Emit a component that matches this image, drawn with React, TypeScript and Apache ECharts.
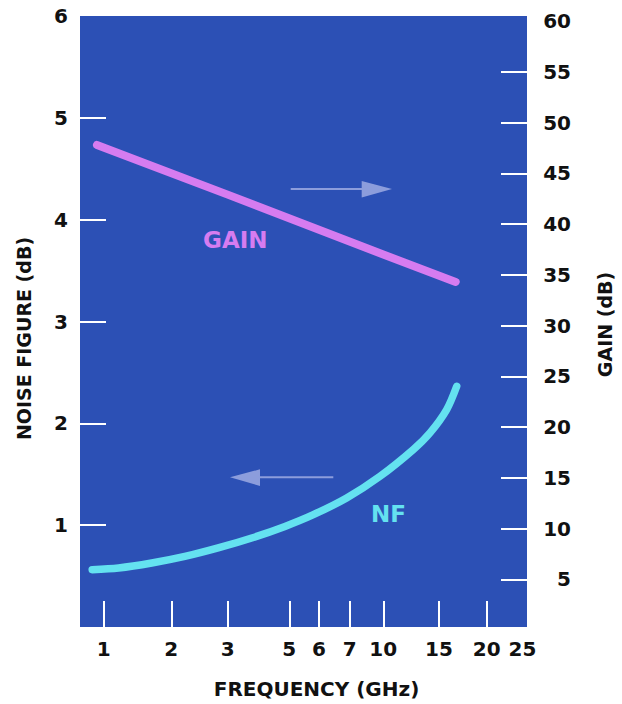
import React, { useEffect, useRef } from "react";
import * as echarts from "echarts";

// ---- Data ----
// Frequency axis tick labels (GHz)
const FREQ_TICKS = [1, 2, 3, 5, 6, 7, 10, 15, 20, 25];
// Non-uniform frequency scale of the original plot: where each tick sits along the axis (0..1)
const FREQ_SCALE_STOPS = [0.053, 0.2043, 0.3304, 0.4682, 0.5347, 0.6034, 0.6785, 0.8031, 0.9098, 0.99];

// Noise figure curve (left axis, dB)
const nfFreq = [0.83, 1.22, 1.71, 2.24, 2.83, 3.78, 4.86, 5.81, 6.9, 9.71, 12.69, 14.19, 15.81, 16.86];
const nfValues = [0.563, 0.579, 0.628, 0.693, 0.776, 0.874, 0.988, 1.103, 1.267, 1.48, 1.742, 1.906, 2.135, 2.364];

// Gain line (right axis, dB)
const gainFreq = [0.9, 3, 10, 16.75];
const gainValues = [47.8, 42.9, 37.0, 34.3];

// Y tick labels
const NF_TICKS = [1, 2, 3, 4, 5, 6];
const GAIN_TICKS = [5, 10, 15, 20, 25, 30, 35, 40, 45, 50, 55, 60];

// ---- Scale helper: frequency -> position on the non-uniform axis ----
function freqToPos(f: number): number {
  const t = FREQ_TICKS;
  const p = FREQ_SCALE_STOPS;
  let i = 0;
  if (f <= t[0]) i = 0;
  else if (f >= t[t.length - 1]) i = t.length - 2;
  else {
    while (i < t.length - 2 && f > t[i + 1]) i++;
  }
  const r = (f - t[i]) / (t[i + 1] - t[i]);
  return p[i] + r * (p[i + 1] - p[i]);
}

function posToLabel(v: number): string {
  let best = 0;
  let d = Infinity;
  FREQ_SCALE_STOPS.forEach((p, i) => {
    const dd = Math.abs(p - v);
    if (dd < d) {
      d = dd;
      best = i;
    }
  });
  return String(FREQ_TICKS[best]);
}

const BG = "#2c50b5";
const GAIN_COLOR = "#d67cf0";
const NF_COLOR = "#64e2f0";
const ARROW_COLOR = "#8c9ddc";
const FONT = "DejaVu Sans";
const TEXT_COLOR = "#111111";

export default function App() {
  const ref = useRef<HTMLDivElement>(null);

  useEffect(() => {
    if (!ref.current) return;
    const chart = echarts.init(ref.current, undefined, { renderer: "svg" });

    const labelStyle = {
      fontFamily: FONT,
      fontWeight: "bold" as const,
      fontSize: 20,
      color: TEXT_COLOR,
    };
    const tickStyle = {
      show: true,
      inside: true,
      length: 26,
      lineStyle: { color: "#ffffff", width: 2 },
    };

    chart.setOption({
      animation: false,
      backgroundColor: "#ffffff",
      grid: {
        left: 80,
        top: 16,
        right: 95,
        bottom: 76,
        show: true,
        backgroundColor: BG,
        borderWidth: 0,
      },
      xAxis: {
        type: "value",
        min: 0,
        max: 1,
        axisLine: { show: false },
        splitLine: { show: false },
        axisTick: { ...tickStyle, customValues: FREQ_SCALE_STOPS.slice(0, -1) },
        axisLabel: {
          ...labelStyle,
          margin: 12,
          customValues: FREQ_SCALE_STOPS,
          formatter: (v: number) => posToLabel(v),
        },
        name: "FREQUENCY (GHz)",
        nameLocation: "middle",
        nameGap: 52,
        nameTextStyle: {
          fontFamily: FONT,
          fontWeight: "bold",
          fontSize: 20,
          color: TEXT_COLOR,
          padding: [0, 0, 0, 26],
        },
      },
      yAxis: [
        {
          type: "value",
          min: 0,
          max: 6,
          position: "left",
          axisLine: { show: false },
          splitLine: { show: false },
          axisTick: { ...tickStyle, customValues: [1, 2, 3, 4, 5] },
          axisLabel: { ...labelStyle, margin: 12, customValues: NF_TICKS },
          name: "NOISE FIGURE (dB)",
          nameLocation: "middle",
          nameRotate: 90,
          nameGap: 47,
          nameTextStyle: {
            fontFamily: FONT,
            fontWeight: "bold",
            fontSize: 19,
            color: TEXT_COLOR,
            padding: [0, 34, 0, 0],
          },
        },
        {
          type: "value",
          min: 0.3,
          max: 60.5,
          position: "right",
          axisLine: { show: false },
          splitLine: { show: false },
          axisTick: { ...tickStyle, customValues: GAIN_TICKS.slice(0, -1) },
          axisLabel: { ...labelStyle, margin: 44, align: "right", customValues: GAIN_TICKS },
          name: "GAIN (dB)",
          nameLocation: "middle",
          nameRotate: 90,
          nameGap: 68,
          nameTextStyle: {
            fontFamily: FONT,
            fontWeight: "bold",
            fontSize: 19,
            color: TEXT_COLOR,
            padding: [0, 6, 0, 0],
          },
        },
      ],
      series: [
        {
          name: "GAIN",
          type: "line",
          yAxisIndex: 1,
          symbol: "none",
          data: gainFreq.map((f, i) => [freqToPos(f), gainValues[i]]),
          lineStyle: { color: GAIN_COLOR, width: 8, cap: "round", join: "round" },
          z: 3,
        },
        {
          name: "NF",
          type: "line",
          yAxisIndex: 0,
          symbol: "none",
          smooth: 0.3,
          data: nfFreq.map((f, i) => [freqToPos(f), nfValues[i]]),
          lineStyle: { color: NF_COLOR, width: 7.5, cap: "round", join: "round" },
          z: 3,
        },
      ],
      graphic: [
        {
          type: "text",
          left: 203,
          top: 228,
          z: 10,
          style: {
            text: "GAIN",
            fill: GAIN_COLOR,
            font: `bold 23px "${FONT}"`,
          },
        },
        {
          type: "text",
          left: 371,
          top: 502,
          z: 10,
          style: {
            text: "NF",
            fill: NF_COLOR,
            font: `bold 23px "${FONT}"`,
          },
        },
        {
          type: "line",
          z: 10,
          shape: { x1: 290.7, y1: 189, x2: 364, y2: 189 },
          style: { stroke: ARROW_COLOR, lineWidth: 2 },
        },
        {
          type: "polygon",
          z: 10,
          shape: { points: [[392, 189], [361.7, 181], [361.7, 197.5]] },
          style: { fill: ARROW_COLOR },
        },
        {
          type: "line",
          z: 10,
          shape: { x1: 333.3, y1: 477.3, x2: 258, y2: 477.3 },
          style: { stroke: ARROW_COLOR, lineWidth: 2 },
        },
        {
          type: "polygon",
          z: 10,
          shape: { points: [[230, 477.3], [260, 469.3], [260, 486]] },
          style: { fill: ARROW_COLOR },
        },
      ],
    });

    return () => {
      chart.dispose();
    };
  }, []);

  return (
    <div
      ref={ref}
      style={{ position: "absolute", left: 0, top: 0, width: 622, height: 704 }}
    />
  );
}
